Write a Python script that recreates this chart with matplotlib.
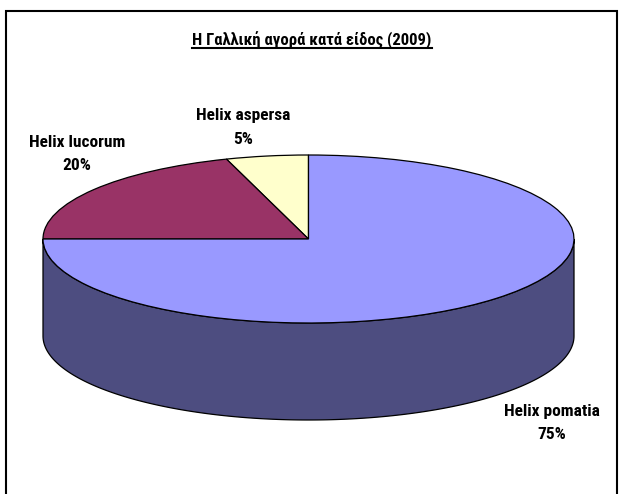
import matplotlib.pyplot as plt
import numpy as np
from matplotlib.colors import to_rgb
from matplotlib.lines import Line2D
from matplotlib.patches import Rectangle

title = 'Η Γαλλική αγορά κατά είδος (2009)'
species = ['Helix aspersa', 'Helix lucorum', 'Helix pomatia']
shares = [5, 20, 75]
colors = ['#FFFFCC', '#993366', '#9999FF']

W, H = 619, 494
cx, cy = 308.5, 239      # pie centre in pixels (from top)
rx, ry = 265.5, 84       # ellipse radii in pixels
depth = 97               # side height in pixels

plt.rcParams['font.family'] = ['Roboto Condensed', 'DejaVu Sans']

fig = plt.figure(figsize=(W / 100, H / 100), dpi=100)
ax = fig.add_axes([0, 0, 1, 1])

d = depth / ry
wedges, _ = ax.pie(shares, colors=colors, startangle=90, counterclock=True,
                   radius=1, center=(0, 0),
                   wedgeprops=dict(edgecolor='black', linewidth=0.9, zorder=3))

# side wall of the front half, darker shade of each slice
for w, c in zip(wedges, colors):
    t1, t2 = w.theta1, w.theta2
    for off in (0, 360):
        a, b = max(t1, 180 + off), min(t2, 360 + off)
        if b > a:
            t = np.radians(np.linspace(a, b, 200))
            xs = np.cos(t)
            top = np.sin(t)
            dark = tuple(0.5 * v for v in to_rgb(c))
            ax.fill(np.r_[xs, xs[::-1]], np.r_[top, top[::-1] - d],
                    facecolor=dark, edgecolor='black', linewidth=0.9, zorder=2)

ax.set_aspect('auto')
ax.set_xlim(-cx / rx, (W - cx) / rx)
ax.set_ylim(-(H - cy) / ry, cy / ry)
ax.axis('off')

# labels: name line and percent line (baselines in pixels)
label_pos = [(243, 119.5, 143.5), (77, 147, 170.5), (552, 416, 439)]
for name, v, (px, py1, py2) in zip(species, shares, label_pos):
    for s, py in ((name, py1), (f'{v}%', py2)):
        fig.text(px / W, 1 - py / H, s, ha='center', va='baseline',
                 fontsize=12.5, fontweight='bold')

# title with underline
t = fig.text(312 / W, 1 - 45 / H, title, ha='center', va='baseline',
             fontsize=12, fontweight='bold')
fig.canvas.draw()
bb = t.get_window_extent(fig.canvas.get_renderer())
uy = 1 - 47.8 / H
fig.add_artist(Line2D([bb.x0 / W, bb.x1 / W], [uy, uy], color='black',
                      linewidth=1.5, transform=fig.transFigure))

# chart area border
fig.add_artist(Rectangle((6 / W, -0.05), 611 / W, 1.05 - 11 / H,
                         transform=fig.transFigure, fill=False,
                         edgecolor='black', linewidth=1.5))

fig.savefig('out.png', dpi=100)
